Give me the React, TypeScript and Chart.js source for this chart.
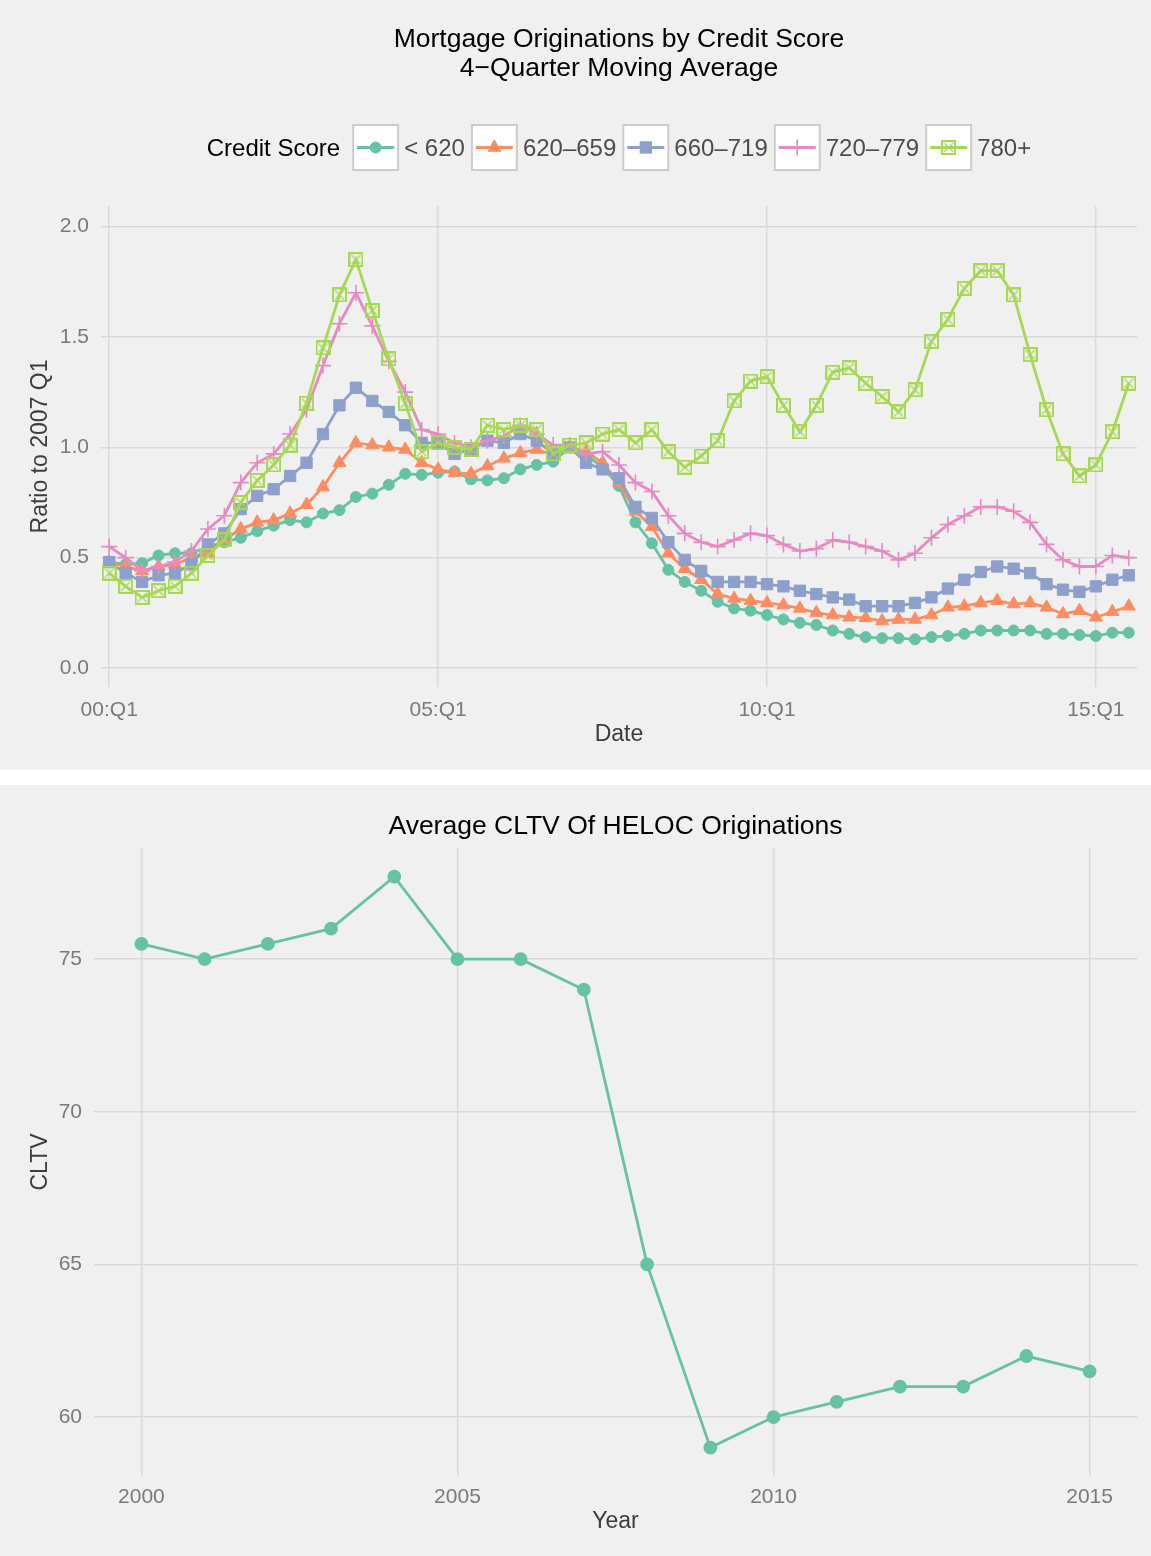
import React, { useEffect, useRef } from "react";
import { Chart, registerables } from "chart.js";
import { drawPoint } from "chart.js/helpers";

Chart.register(...registerables);

const FONT = "'Liberation Sans', Arial, Helvetica, sans-serif";

// ---------- Top chart data ----------
const quarters = [
  "2000Q1", "2000Q2", "2000Q3", "2000Q4", "2001Q1", "2001Q2", "2001Q3", "2001Q4",
  "2002Q1", "2002Q2", "2002Q3", "2002Q4", "2003Q1", "2003Q2", "2003Q3", "2003Q4",
  "2004Q1", "2004Q2", "2004Q3", "2004Q4", "2005Q1", "2005Q2", "2005Q3", "2005Q4",
  "2006Q1", "2006Q2", "2006Q3", "2006Q4", "2007Q1", "2007Q2", "2007Q3", "2007Q4",
  "2008Q1", "2008Q2", "2008Q3", "2008Q4", "2009Q1", "2009Q2", "2009Q3", "2009Q4",
  "2010Q1", "2010Q2", "2010Q3", "2010Q4", "2011Q1", "2011Q2", "2011Q3", "2011Q4",
  "2012Q1", "2012Q2", "2012Q3", "2012Q4", "2013Q1", "2013Q2", "2013Q3", "2013Q4",
  "2014Q1", "2014Q2", "2014Q3", "2014Q4", "2015Q1", "2015Q2", "2015Q3",
];

const seriesLabels = ["< 620", "620\u2013659", "660\u2013719", "720\u2013779", "780+"];
const seriesColors = ["#66c2a5", "#fc8d62", "#8da0cb", "#e78ac3", "#a6d854"];

const scoreBelow620 = [
  0.48, 0.47, 0.475, 0.51, 0.52, 0.52, 0.55, 0.57, 0.59, 0.62, 0.645, 0.67, 0.66, 0.70, 0.715, 0.775,
  0.79, 0.83, 0.88, 0.875, 0.885, 0.89, 0.855, 0.85, 0.86, 0.90, 0.92, 0.935, 1.00, 0.965, 0.91, 0.825,
  0.66, 0.565, 0.445, 0.39, 0.35, 0.30, 0.27, 0.26, 0.24, 0.22, 0.205, 0.195, 0.17, 0.155, 0.14, 0.135,
  0.135, 0.13, 0.14, 0.145, 0.155, 0.17, 0.17, 0.17, 0.17, 0.155, 0.155, 0.15, 0.145, 0.16, 0.16,
];
const score620to659 = [
  0.48, 0.46, 0.44, 0.46, 0.47, 0.50, 0.52, 0.58, 0.63, 0.66, 0.67, 0.70, 0.74, 0.82, 0.93, 1.02,
  1.01, 1.00, 0.99, 0.93, 0.90, 0.885, 0.88, 0.915, 0.95, 0.975, 0.99, 0.965, 1.00, 0.98, 0.93, 0.84,
  0.71, 0.64, 0.52, 0.45, 0.40, 0.335, 0.315, 0.305, 0.295, 0.285, 0.27, 0.25, 0.24, 0.23, 0.227, 0.213,
  0.22, 0.22, 0.24, 0.275, 0.28, 0.295, 0.305, 0.29, 0.295, 0.275, 0.245, 0.26, 0.23, 0.255, 0.28,
];
const score660to719 = [
  0.48, 0.43, 0.39, 0.42, 0.43, 0.47, 0.56, 0.61, 0.72, 0.78, 0.81, 0.87, 0.93, 1.06, 1.19, 1.27,
  1.21, 1.16, 1.10, 1.02, 1.02, 0.97, 0.99, 1.03, 1.02, 1.06, 1.03, 0.97, 1.00, 0.93, 0.90, 0.86,
  0.73, 0.68, 0.57, 0.49, 0.44, 0.39, 0.39, 0.39, 0.38, 0.37, 0.35, 0.335, 0.32, 0.31, 0.28, 0.28,
  0.28, 0.295, 0.32, 0.36, 0.40, 0.435, 0.46, 0.45, 0.43, 0.38, 0.355, 0.345, 0.37, 0.40, 0.42,
];
const score720to779 = [
  0.55, 0.50, 0.44, 0.46, 0.48, 0.53, 0.63, 0.69, 0.84, 0.93, 0.97, 1.06, 1.17, 1.37, 1.56, 1.70,
  1.55, 1.39, 1.25, 1.08, 1.06, 1.02, 1.00, 1.03, 1.05, 1.10, 1.06, 1.01, 1.01, 0.97, 0.98, 0.92,
  0.84, 0.80, 0.69, 0.61, 0.57, 0.55, 0.58, 0.61, 0.60, 0.56, 0.53, 0.54, 0.58, 0.57, 0.55, 0.53,
  0.49, 0.52, 0.59, 0.65, 0.69, 0.73, 0.73, 0.71, 0.66, 0.56, 0.49, 0.46, 0.46, 0.51, 0.50,
];
const score780plus = [
  0.43, 0.37, 0.32, 0.35, 0.37, 0.43, 0.51, 0.58, 0.75, 0.85, 0.92, 1.01, 1.20, 1.45, 1.69, 1.85,
  1.62, 1.40, 1.20, 0.98, 1.02, 1.00, 0.99, 1.10, 1.08, 1.10, 1.08, 0.97, 1.01, 1.02, 1.06, 1.08,
  1.02, 1.08, 0.98, 0.91, 0.96, 1.03, 1.21, 1.30, 1.32, 1.19, 1.07, 1.19, 1.34, 1.36, 1.29, 1.23,
  1.16, 1.26, 1.48, 1.58, 1.72, 1.80, 1.80, 1.69, 1.42, 1.17, 0.97, 0.87, 0.92, 1.07, 1.29,
];

const xTickQuarters = ["2000Q1", "2005Q1", "2010Q1", "2015Q1"];
const xTickLabels = ["00:Q1", "05:Q1", "10:Q1", "15:Q1"];
const ratioTicks = [0, 0.5, 1.0, 1.5, 2.0];

// ---------- Bottom chart data ----------
const years = [2000, 2001, 2002, 2003, 2004, 2005, 2006, 2007, 2008, 2009, 2010, 2011, 2012, 2013, 2014, 2015];
const avgCltv = [75.5, 75, 75.5, 76, 77.7, 75, 75, 74, 65, 59, 60, 60.5, 61, 61, 62, 61.5];
const yearTicks = [2000, 2005, 2010, 2015];
const cltvTicks = [60, 65, 70, 75];

const BG = "#f0f0f0";
const GRID = "#d9d9d9";
const TICK_COLOR = "#7a7a7a";
const AXIS_TITLE_COLOR = "#3c3c3c";
const LINE_W = 2.8;

function makeBoxX(color: string): HTMLCanvasElement {
  const size = 15;
  const c = document.createElement("canvas");
  c.width = size;
  c.height = size;
  const g = c.getContext("2d")!;
  g.strokeStyle = color;
  g.lineWidth = 2;
  g.strokeRect(1, 1, size - 2, size - 2);
  g.lineWidth = 1.3;
  g.beginPath();
  g.moveTo(3, 3);
  g.lineTo(size - 3, size - 3);
  g.moveTo(size - 3, 3);
  g.lineTo(3, size - 3);
  g.stroke();
  return c;
}

const bgPlugin = {
  id: "ggBackground",
  beforeDraw(chart: any) {
    const ctx = chart.ctx;
    ctx.save();
    ctx.fillStyle = BG;
    ctx.fillRect(0, 0, chart.width, chart.height);
    ctx.restore();
  },
};

const ggLegend = {
  id: "ggLegend",
  afterDraw(chart: any, _args: any, opts: any) {
    if (!opts || !opts.display) return;
    const ctx = chart.ctx;
    ctx.save();
    ctx.font = `${opts.fontSize}px ${FONT}`;
    ctx.textBaseline = "middle";
    ctx.textAlign = "left";
    const items = chart.data.datasets.map((ds: any) => ds);
    const box = 47;
    const gapTitle = 12;
    const gapBoxLabel = 5;
    const gapItem = 6;
    const titleW = ctx.measureText(opts.title).width;
    let total = titleW + gapTitle;
    items.forEach((it: any, i: number) => {
      total += box + gapBoxLabel + ctx.measureText(it.label).width + (i < items.length - 1 ? gapItem : 0);
    });
    const ca = chart.chartArea;
    let x = (ca.left + ca.right) / 2 - total / 2;
    const yb = opts.boxY;
    const yt = opts.textY;
    ctx.fillStyle = "#000000";
    ctx.fillText(opts.title, x, yt);
    x += titleW + gapTitle;
    items.forEach((it: any) => {
      ctx.fillStyle = "#ffffff";
      ctx.fillRect(x, yb - box / 2, box, box);
      ctx.strokeStyle = "#cccccc";
      ctx.lineWidth = 2;
      ctx.strokeRect(x + 1, yb - box / 2 + 1, box - 2, box - 2);
      ctx.strokeStyle = it.borderColor;
      ctx.lineWidth = LINE_W;
      ctx.beginPath();
      ctx.moveTo(x + 5, yb);
      ctx.lineTo(x + box - 5, yb);
      ctx.stroke();
      ctx.fillStyle = it.pointBackgroundColor;
      ctx.strokeStyle = it.pointBorderColor;
      ctx.lineWidth = it.pointBorderWidth;
      drawPoint(ctx, { pointStyle: it.pointStyle, radius: it.pointRadius, borderWidth: it.pointBorderWidth, rotation: 0 } as any, x + box / 2, yb);
      x += box + gapBoxLabel;
      ctx.fillStyle = "#4d4d4d";
      ctx.fillText(it.label, x, yt);
      x += ctx.measureText(it.label).width + gapItem;
    });
    ctx.restore();
  },
};

function MortgageChart() {
  const ref = useRef<HTMLCanvasElement>(null);
  useEffect(() => {
    const seriesValues = [scoreBelow620, score620to659, score660to719, score720to779, score780plus];
    const styles: any[] = ["circle", "triangle", "rect", "cross", makeBoxX(seriesColors[4])];
    const radii = [5.5, 7.5, 8, 8, 7.5];
    const pbw = [1, 1, 1, 1.6, 1];
    const datasets = seriesValues.map((vals, i) => ({
      label: seriesLabels[i],
      data: vals.map((v, k) => ({ x: k, y: v })),
      borderColor: seriesColors[i],
      backgroundColor: seriesColors[i],
      pointBackgroundColor: seriesColors[i],
      pointBorderColor: seriesColors[i],
      pointBorderWidth: pbw[i],
      pointStyle: styles[i],
      pointRadius: radii[i],
      borderWidth: LINE_W,
      tension: 0,
      order: 4 - i,
    }));
    const tickIdx = xTickQuarters.map((q) => quarters.indexOf(q));
    const chart = new Chart(ref.current!, {
      type: "line",
      data: { datasets },
      plugins: [bgPlugin, ggLegend],
      options: {
        responsive: false,
        animation: false,
        layout: { padding: { left: 0, right: 14, top: 0, bottom: 0 } },
        plugins: {
          legend: { display: false },
          tooltip: { enabled: false },
          title: {
            display: true,
            fullSize: false,
            text: ["Mortgage Originations by Credit Score", "4\u2212Quarter Moving Average"],
            color: "#000000",
            font: { family: FONT, size: 26.5, weight: "normal", lineHeight: 1.095 },
            padding: { top: 25.5, bottom: 122.5 },
          },
          ggLegend: { display: true, title: "Credit Score", fontSize: 24, boxY: 147.5, textY: 149.5 },
        } as any,
        scales: {
          x: {
            type: "linear",
            min: -0.5,
            max: 62.5,
            afterBuildTicks: (axis: any) => {
              axis.ticks = tickIdx.map((v) => ({ value: v }));
            },
            afterFit: (scale: any) => {
              scale.height = 83;
            },
            ticks: {
              color: TICK_COLOR,
              font: { family: FONT, size: 21 },
              padding: 11,
              maxRotation: 0,
              callback: (v: any) => xTickLabels[tickIdx.indexOf(Number(v))] ?? "",
            },
            grid: { color: GRID, lineWidth: 1.5, drawTicks: false },
            border: { display: false },
            title: {
              display: true,
              text: "Date",
              color: AXIS_TITLE_COLOR,
              font: { family: FONT, size: 23 },
              padding: { top: 0, bottom: 22 },
            },
          },
          y: {
            type: "linear",
            min: -0.086,
            max: 2.093,
            afterBuildTicks: (axis: any) => {
              axis.ticks = ratioTicks.map((v) => ({ value: v }));
            },
            afterFit: (scale: any) => {
              scale.width = 101;
            },
            ticks: {
              color: TICK_COLOR,
              font: { family: FONT, size: 21 },
              padding: 12,
              callback: (v: any) => Number(v).toFixed(1),
            },
            grid: { color: GRID, lineWidth: 1.5, drawTicks: false },
            border: { display: false },
            title: {
              display: true,
              text: "Ratio to 2007 Q1",
              color: AXIS_TITLE_COLOR,
              font: { family: FONT, size: 23 },
              padding: { top: 27, bottom: 0 },
            },
          },
        },
      } as any,
    });
    return () => chart.destroy();
  }, []);
  return <canvas ref={ref} width={1151} height={770} style={{ display: "block" }} />;
}

function CltvChart() {
  const ref = useRef<HTMLCanvasElement>(null);
  useEffect(() => {
    const chart = new Chart(ref.current!, {
      type: "line",
      data: {
        datasets: [
          {
            label: "Average CLTV",
            data: years.map((yr, i) => ({ x: yr, y: avgCltv[i] })),
            borderColor: "#66c2a5",
            backgroundColor: "#66c2a5",
            pointBackgroundColor: "#66c2a5",
            pointBorderColor: "#66c2a5",
            pointStyle: "circle",
            pointRadius: 5.5,
            borderWidth: LINE_W,
            tension: 0,
          },
        ],
      },
      plugins: [bgPlugin],
      options: {
        responsive: false,
        animation: false,
        layout: { padding: { left: 0, right: 14, top: 0, bottom: 0 } },
        plugins: {
          legend: { display: false },
          tooltip: { enabled: false },
          title: {
            display: true,
            fullSize: false,
            text: "Average CLTV Of HELOC Originations",
            color: "#000000",
            font: { family: FONT, size: 26.5, weight: "normal", lineHeight: 1.095 },
            padding: { top: 27.5, bottom: 6.5 },
          },
        },
        scales: {
          x: {
            type: "linear",
            min: 1999.25,
            max: 2015.75,
            afterBuildTicks: (axis: any) => {
              axis.ticks = yearTicks.map((v) => ({ value: v }));
            },
            afterFit: (scale: any) => {
              scale.height = 80;
            },
            ticks: {
              color: TICK_COLOR,
              font: { family: FONT, size: 21 },
              padding: 9,
              maxRotation: 0,
              callback: (v: any) => String(v),
            },
            grid: { color: GRID, lineWidth: 1.5, drawTicks: false },
            border: { display: false },
            title: {
              display: true,
              text: "Year",
              color: AXIS_TITLE_COLOR,
              font: { family: FONT, size: 23 },
              padding: { top: 0, bottom: 21 },
            },
          },
          y: {
            type: "linear",
            min: 58.07,
            max: 78.64,
            afterBuildTicks: (axis: any) => {
              axis.ticks = cltvTicks.map((v) => ({ value: v }));
            },
            afterFit: (scale: any) => {
              scale.width = 94;
            },
            ticks: {
              color: TICK_COLOR,
              font: { family: FONT, size: 21 },
              padding: 12,
              callback: (v: any) => String(v),
            },
            grid: { color: GRID, lineWidth: 1.5, drawTicks: false },
            border: { display: false },
            title: {
              display: true,
              text: "CLTV",
              color: AXIS_TITLE_COLOR,
              font: { family: FONT, size: 23 },
              padding: { top: 27, bottom: 0 },
            },
          },
        },
      } as any,
    });
    return () => chart.destroy();
  }, []);
  return <canvas ref={ref} width={1151} height={771} style={{ display: "block" }} />;
}

export default function App() {
  useEffect(() => {
    document.body.style.margin = "0";
    document.body.style.background = "#ffffff";
  }, []);
  return (
    <div style={{ width: 1151, background: "#ffffff" }}>
      <MortgageChart />
      <div style={{ height: 15 }} />
      <CltvChart />
    </div>
  );
}
